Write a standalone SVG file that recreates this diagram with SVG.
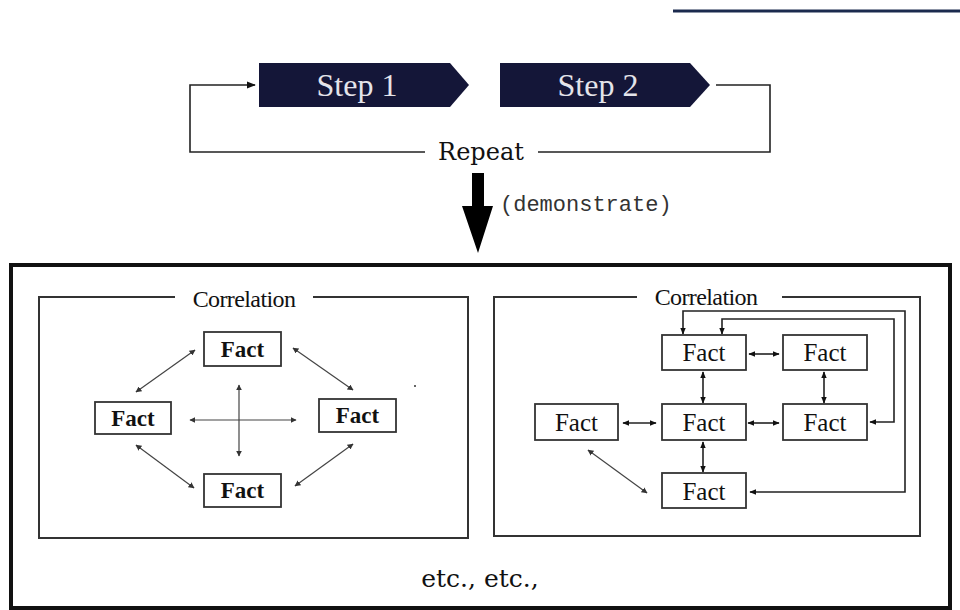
<svg xmlns="http://www.w3.org/2000/svg" width="960" height="610" viewBox="0 0 960 610">
<defs>
<style>
.step{fill:#141638}
.steptxt{font-family:"Liberation Serif","DejaVu Serif",serif;font-size:32px;fill:#e4e4ea;text-anchor:middle}
.line{fill:none;stroke:#222;stroke-width:1.6}
.thin{fill:none;stroke:#444;stroke-width:1.2}
.pan{fill:none;stroke:#333;stroke-width:2}
.fact{fill:#fff;stroke:#333;stroke-width:1.8}
.factL{font-family:"Liberation Serif",serif;font-weight:bold;font-size:23px;fill:#111;text-anchor:middle}
.factR{font-family:"Liberation Serif",serif;font-size:25px;fill:#111;text-anchor:middle}
.corr{font-family:"Liberation Serif",serif;font-size:24px;fill:#111;text-anchor:middle;letter-spacing:-0.6px}
</style>
<marker id="ah" viewBox="0 0 10 10" refX="9" refY="5" markerWidth="6" markerHeight="6" markerUnits="userSpaceOnUse" orient="auto-start-reverse"><path d="M0,0 L10,5 L0,10 Z" fill="#333"/></marker>
<marker id="ah2" viewBox="0 0 10 10" refX="9" refY="5" markerWidth="7" markerHeight="7" markerUnits="userSpaceOnUse" orient="auto-start-reverse"><path d="M0,1 L10,5 L0,9 Z" fill="#111"/></marker>
<marker id="ah3" viewBox="0 0 10 10" refX="9" refY="5" markerWidth="9" markerHeight="9" markerUnits="userSpaceOnUse" orient="auto"><path d="M0,1 L10,5 L0,9 Z" fill="#111"/></marker>
</defs>
<rect width="960" height="610" fill="#fff"/>
<line x1="673" y1="11" x2="960" y2="11" stroke="#1b2a4e" stroke-width="3"/>

<g id="step1">
<polygon class="step" points="259,63 450,63 469,85 450,107 259,107"/>
<text class="steptxt" x="357" y="96">Step 1</text>
</g>
<g id="step2">
<polygon class="step" points="500,63 690,63 710,85 690,107 500,107"/>
<text class="steptxt" x="598" y="96">Step 2</text>
</g>
<g id="repeat">
<text x="481" y="160" font-family="DejaVu Serif, serif" font-size="24" fill="#111" text-anchor="middle">Repeat</text>
</g>
<g id="demonstrate">
<text x="500" y="211" font-family="Liberation Mono, monospace" font-size="22" fill="#333">(demonstrate)</text>
</g>

<g id="connectors">
<polyline class="line" points="716,85 770,85 770,152 538,152"/>
<polyline class="line" points="425,152 190,152 190,85 255,85" marker-end="url(#ah3)"/>
<polygon points="472,173 484,173 484,206 493,206 478,253 462,206 472,206" fill="#000"/>

<line class="thin" x1="195" y1="350" x2="136" y2="392" marker-start="url(#ah)" marker-end="url(#ah)"/>
<line class="thin" x1="293" y1="348" x2="353" y2="390" marker-start="url(#ah)" marker-end="url(#ah)"/>
<line class="thin" x1="136" y1="445" x2="194" y2="488" marker-start="url(#ah)" marker-end="url(#ah)"/>
<line class="thin" x1="353" y1="444" x2="295" y2="486" marker-start="url(#ah)" marker-end="url(#ah)"/>
<line class="thin" x1="190" y1="420" x2="296" y2="420" marker-start="url(#ah)" marker-end="url(#ah)"/>
<line class="thin" x1="239" y1="385" x2="239" y2="456" marker-start="url(#ah)" marker-end="url(#ah)"/>

<line class="line" x1="749" y1="354" x2="779" y2="354" marker-start="url(#ah2)" marker-end="url(#ah2)"/>
<line class="line" x1="703" y1="372" x2="703" y2="403" marker-start="url(#ah2)" marker-end="url(#ah2)"/>
<line class="line" x1="824" y1="372" x2="824" y2="403" marker-start="url(#ah2)" marker-end="url(#ah2)"/>
<line class="line" x1="623" y1="423" x2="656" y2="423" marker-start="url(#ah2)" marker-end="url(#ah2)"/>
<line class="line" x1="748" y1="423" x2="779" y2="423" marker-start="url(#ah2)" marker-end="url(#ah2)"/>
<line class="line" x1="703" y1="442" x2="703" y2="472" marker-start="url(#ah2)" marker-end="url(#ah2)"/>
<line class="thin" x1="588" y1="450" x2="647" y2="493" marker-start="url(#ah)" marker-end="url(#ah)"/>
<polyline class="line" points="750,492 905,492 905,311 683,311 683,334" marker-start="url(#ah2)" marker-end="url(#ah2)"/>
<polyline class="line" points="870,422 894,422 894,319 722,319 722,334" marker-start="url(#ah2)" marker-end="url(#ah2)"/>
</g>

<g id="outer">
<rect x="11" y="265" width="939" height="343" fill="none" stroke="#111" stroke-width="4"/>
<text x="480" y="587" font-family="DejaVu Serif, serif" font-size="25" fill="#111" text-anchor="middle">etc., etc.,</text>
</g>

<g id="panel-left">
<polyline class="pan" points="175,297 39,297 39,538 468,538 468,297 313,297"/>
<text class="corr" x="244" y="307">Correlation</text>
<circle cx="415" cy="386" r="1" fill="#333"/>
</g>
<g id="fact-l-top"><rect class="fact" x="204" y="332" width="77" height="34"/><text class="factL" x="242.5" y="357">Fact</text></g>
<g id="fact-l-left"><rect class="fact" x="95" y="402" width="76" height="32"/><text class="factL" x="133" y="426">Fact</text></g>
<g id="fact-l-right"><rect class="fact" x="319" y="399" width="77" height="33"/><text class="factL" x="357.5" y="423">Fact</text></g>
<g id="fact-l-bottom"><rect class="fact" x="204" y="474" width="77" height="33"/><text class="factL" x="242.5" y="498">Fact</text></g>

<g id="panel-right">
<polyline class="pan" points="637,297 494,297 494,536 920,536 920,297 782,297"/>
<text class="corr" x="706" y="305">Correlation</text>
</g>
<g id="fact-r-a"><rect class="fact" x="662" y="335" width="84" height="35"/><text class="factR" x="704" y="361">Fact</text></g>
<g id="fact-r-b"><rect class="fact" x="783" y="335" width="84" height="35"/><text class="factR" x="825" y="361">Fact</text></g>
<g id="fact-r-c"><rect class="fact" x="535" y="404" width="83" height="36"/><text class="factR" x="576.5" y="431">Fact</text></g>
<g id="fact-r-d"><rect class="fact" x="662" y="404" width="84" height="36"/><text class="factR" x="704" y="431">Fact</text></g>
<g id="fact-r-e"><rect class="fact" x="783" y="404" width="84" height="36"/><text class="factR" x="825" y="431">Fact</text></g>
<g id="fact-r-f"><rect class="fact" x="662" y="473" width="84" height="35"/><text class="factR" x="704" y="500">Fact</text></g>
</svg>
